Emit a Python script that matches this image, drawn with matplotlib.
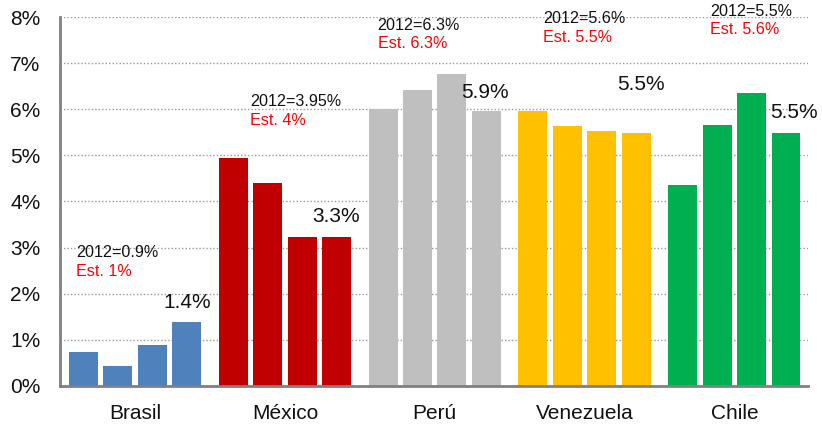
import numpy as np
import matplotlib.pyplot as plt

#---DATA---
countries = ["Brasil", "México", "Perú", "Venezuela", "Chile"]
colors = ["#4F81BD", "#C00000", "#BFBFBF", "#FFC000", "#00B050"]

brasil = [0.74, 0.43, 0.89, 1.39]
mexico = [4.95, 4.40, 3.24, 3.24]
peru = [6.01, 6.42, 6.77, 5.96]
venezuela = [5.96, 5.64, 5.53, 5.49]
chile = [4.36, 5.66, 6.36, 5.49]

big_labels = ["1.4%", "3.3%", "5.9%", "5.5%", "5.5%"]
label_2012 = ["2012=0.9%", "2012=3.95%", "2012=6.3%", "2012=5.6%", "2012=5.5%"]
label_est = ["Est. 1%", "Est. 4%", "Est. 6.3%", "Est. 5.5%", "Est. 5.6%"]

#---LAYOUT---
group_step = 4.35
bar_width = 0.84
# offsets of the notes relative to each group's first bar (x, y black, y red)
note_x = [-0.22, 0.48, -0.16, 0.30, 0.79]
note_y = [2.89, 6.17, 7.82, 7.96, 8.12]
note_y_red = [2.48, 5.75, 7.42, 7.56, 7.72]
big_x = [3.0, 3.0, 2.97, 3.14, 3.22]
big_y = [1.80, 3.67, 6.36, 6.53, 5.92]

plt.rcParams["font.family"] = ["Liberation Sans", "DejaVu Sans"]

fig = plt.figure(figsize=(8.22, 4.26), dpi=100)
ax = fig.add_axes([0.073, 0.094, 0.910, 0.866])

series = [brasil, mexico, peru, venezuela, chile]
for g, vals in enumerate(series):
    x = g * group_step + np.arange(len(vals))
    ax.bar(x, vals, width=bar_width, color=colors[g], zorder=3)

    x0 = g * group_step
    ax.text(x0 + note_x[g], note_y[g], label_2012[g], fontsize=11.6,
            ha="left", va="center", color="#111111", zorder=4)
    ax.text(x0 + note_x[g], note_y_red[g], label_est[g], fontsize=11.6,
            ha="left", va="center", color="#FF0000", zorder=4)
    ax.text(x0 + big_x[g], big_y[g], big_labels[g], fontsize=15,
            ha="center", va="center", color="#111111", zorder=4)

ax.set_xlim(-0.68, 21.04)
ax.set_ylim(0, 8)

ax.set_yticks(range(0, 9))
ax.set_yticklabels([f"{i}%" for i in range(0, 9)], fontsize=15)
ax.set_xticks([g * group_step + 1.5 for g in range(len(countries))])
ax.set_xticklabels(countries, fontsize=15)
ax.tick_params(axis="both", length=0, colors="#111111")
ax.tick_params(axis="y", pad=14)
ax.tick_params(axis="x", pad=13)

ax.grid(axis="y", linestyle=(0, (1, 1.5)), color="#999999", linewidth=1, zorder=0)
for side in ["top", "right"]:
    ax.spines[side].set_visible(False)
for side in ["left", "bottom"]:
    ax.spines[side].set_color("#808080")
    ax.spines[side].set_linewidth(2)
    ax.spines[side].set_zorder(5)

fig.savefig("out.png", dpi=100)
